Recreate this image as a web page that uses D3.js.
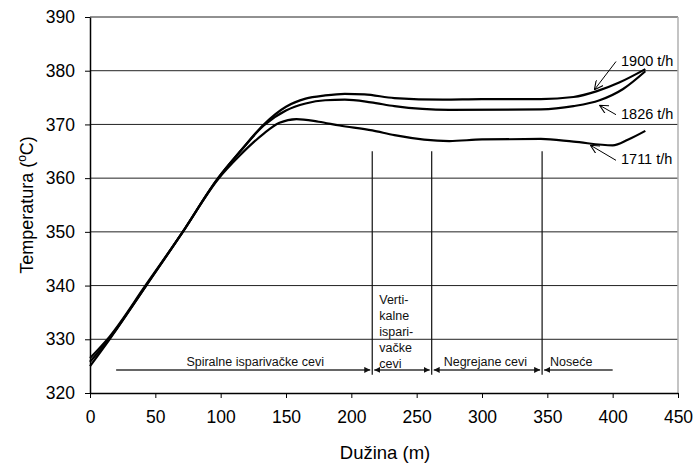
<!DOCTYPE html>
<html>
<head>
<meta charset="utf-8">
<script src="https://cdn.jsdelivr.net/npm/d3@7"></script>
<style>
  body { margin: 0; background: #fff; }
  text { font-family: "Liberation Sans", Arial, sans-serif; }
</style>
</head>
<body>
<svg id="chart" width="696" height="464"></svg>
<script>
// data: [length (m), temperature (°C)]
const flow1900 = [[0,325],[15,330],[43,340],[71,350],[98,360],[115,365],[133,370],[150,373.3],[165,374.8],[180,375.4],[195,375.7],[210,375.6],[233,374.9],[270,374.6],[300,374.7],[345,374.7],[370,375.1],[388,376.2],[405,377.8],[425,380.3]];
const flow1826 = [[0,325.8],[15,330.2],[43,340],[71,350],[98,360],[115,365],[133,369.8],[150,372.6],[165,373.9],[180,374.5],[195,374.6],[215,374.1],[233,373.4],[275,372.7],[345,372.8],[370,373.4],[390,374.5],[408,376.6],[425,379.9]];
const flow1711 = [[0,326.5],[15,330.5],[43,340.2],[71,350],[98,359.8],[115,364.3],[133,368.3],[145,370.3],[158,371.0],[175,370.5],[191,369.8],[216,368.9],[233,368.0],[275,366.9],[300,367.2],[345,367.3],[370,366.8],[400,366.1],[412,367.2],[425,368.8]];

const seriesNames = ["1900 t/h", "1826 t/h", "1711 t/h"];
// where each label's pointer hits the curve (x in m) and where the label sits (°C)
const pointerAt = [386, 390, 383];
const labelAt = [381.9, 372.0, 363.5];

const xTicks = [0, 50, 100, 150, 200, 250, 300, 350, 400, 450];
const yTicks = [320, 330, 340, 350, 360, 370, 380, 390];

// section boundaries along the tube (m)
const boundaries = [216, 261.5, 346];
const sectionStart = 20, sectionEnd = 400;
const sectionY = 324.3;
const boundaryTop = 365, boundaryBottom = 323.4;
const sectionNames = [
  ["Spiralne isparivačke cevi"],
  ["Verti-", "kalne", "ispari-", "vačke", "cevi"],
  ["Negrejane cevi"],
  ["Noseće"]
];

const margin = { top: 17, right: 18, bottom: 71, left: 90 },
    width = 696 - margin.left - margin.right,
    height = 464 - margin.top - margin.bottom;

const svg = d3.select("#chart")
    .append("g")
    .attr("transform", `translate(${margin.left},${margin.top})`);

const x = d3.scaleLinear().domain([0, 450]).range([0, width]);
const y = d3.scaleLinear().domain([320, 390]).range([height, 0]);

// arrowhead markers
const defs = d3.select("#chart").append("defs");
defs.append("marker")
    .attr("id", "tri")
    .attr("viewBox", "0 0 10 10")
    .attr("refX", 10).attr("refY", 5)
    .attr("markerWidth", 6).attr("markerHeight", 6)
    .attr("markerUnits", "userSpaceOnUse")
    .attr("orient", "auto-start-reverse")
    .append("path").attr("d", "M0,0 L10,5 L0,10 Z").attr("fill", "#111");
defs.append("marker")
    .attr("id", "open")
    .attr("viewBox", "0 0 10 10")
    .attr("refX", 10).attr("refY", 5)
    .attr("markerWidth", 9).attr("markerHeight", 9)
    .attr("markerUnits", "userSpaceOnUse")
    .attr("orient", "auto")
    .append("path").attr("d", "M0,0 L10,5 L0,10").attr("fill", "none").attr("stroke", "#000").attr("stroke-width", 1.2);

// horizontal grid
svg.append("g")
    .selectAll("line")
    .data(yTicks.slice(1))
    .join("line")
    .attr("x1", 0).attr("x2", width)
    .attr("y1", d => y(d)).attr("y2", d => y(d))
    .attr("stroke", "#222").attr("stroke-width", 1);

// right frame
svg.append("line")
    .attr("x1", width).attr("x2", width)
    .attr("y1", 0).attr("y2", height)
    .attr("stroke", "#b0b0b0").attr("stroke-width", 1.5);

const xAxis = svg.append("g")
    .attr("transform", `translate(0,${height})`)
    .call(d3.axisBottom(x).tickValues(xTicks).tickSize(5).tickPadding(13).tickSizeOuter(0));
const yAxis = svg.append("g")
    .call(d3.axisLeft(y).tickValues(yTicks).tickSize(5).tickPadding(10).tickSizeOuter(0));

[xAxis, yAxis].forEach(a => {
    a.select(".domain").attr("stroke", "#000").attr("stroke-width", 1.5);
    a.selectAll(".tick line").attr("stroke", "#000");
    a.selectAll("text").attr("font-size", 17.5).attr("fill", "#000")
        .style("font-family", "'Liberation Sans', Arial, sans-serif");
});

// axis titles
svg.append("text")
    .attr("x", width / 2 + 1).attr("y", height + 66)
    .attr("text-anchor", "middle").attr("font-size", 18.5)
    .text("Dužina (m)");

const yTitle = svg.append("text")
    .attr("transform", `translate(${-57},${height / 2}) rotate(-90)`)
    .attr("text-anchor", "middle").attr("font-size", 18);
yTitle.append("tspan").text("Temperatura (");
yTitle.append("tspan").attr("font-size", 12).attr("dy", -7).text("o");
yTitle.append("tspan").attr("dy", 7).text("C)");

// section boundaries
svg.append("g")
    .selectAll("line")
    .data(boundaries)
    .join("line")
    .attr("x1", d => x(d)).attr("x2", d => x(d))
    .attr("y1", y(boundaryTop)).attr("y2", y(boundaryBottom))
    .attr("stroke", "#111").attr("stroke-width", 1.2);

// dimension arrows for each section
const edges = [sectionStart, ...boundaries, sectionEnd];
const gap = 2;
edges.slice(0, -1).forEach((a, i) => {
    const b = edges[i + 1];
    svg.append("line")
        .attr("x1", x(a) + (i > 0 ? gap : 0))
        .attr("x2", x(b) - (i < edges.length - 2 ? gap : 0))
        .attr("y1", y(sectionY)).attr("y2", y(sectionY))
        .attr("stroke", "#333").attr("stroke-width", 1.5)
        .attr("marker-start", i > 0 ? "url(#tri)" : null)
        .attr("marker-end", i < edges.length - 2 ? "url(#tri)" : null);
});

// section labels
const lineH = 16;
sectionNames.forEach((lines, i) => {
    const a = edges[i], b = edges[i + 1];
    const t = svg.append("text").attr("font-size", 12.5).attr("fill", "#111");
    if (lines.length === 1) {
        const tx = i === 0 ? (x(a) + x(b)) / 2 + 11 : x(a) + (i === 3 ? 8 : 12);
        t.attr("x", tx).attr("y", y(sectionY) - 4)
            .attr("text-anchor", i === 0 ? "middle" : "start")
            .text(lines[0]);
    } else {
        lines.forEach((s, k) => {
            t.append("tspan")
                .attr("x", x(a) + 7)
                .attr("y", y(sectionY) - 2 - (lines.length - 1 - k) * lineH)
                .text(s);
        });
    }
});

// curves
const line = d3.line()
    .x(d => x(d[0]))
    .y(d => y(d[1]))
    .curve(d3.curveMonotoneX);

const allSeries = [flow1900, flow1826, flow1711];
svg.append("g")
    .selectAll("path")
    .data(allSeries)
    .join("path")
    .attr("d", line)
    .attr("fill", "none")
    .attr("stroke", "#000")
    .attr("stroke-width", 2.2);

// curve labels with pointers
const interp = (s, xv) => {
    for (let i = 1; i < s.length; i++) {
        if (s[i][0] >= xv) {
            const t = (xv - s[i - 1][0]) / (s[i][0] - s[i - 1][0]);
            return s[i - 1][1] + t * (s[i][1] - s[i - 1][1]);
        }
    }
    return s[s.length - 1][1];
};
const labelX = 621;
const pointerOffset = [-2, 5, 2];
seriesNames.forEach((name, i) => {
    const px = x(pointerAt[i]), py = y(interp(allSeries[i], pointerAt[i])) + pointerOffset[i];
    const ly = y(labelAt[i]);
    svg.append("line")
        .attr("x1", labelX - margin.left - 5).attr("y1", ly + 1)
        .attr("x2", px).attr("y2", py)
        .attr("stroke", "#000").attr("stroke-width", 1)
        .attr("marker-end", "url(#open)");
    svg.append("text")
        .attr("x", labelX - margin.left).attr("y", ly)
        .attr("dy", "0.35em")
        .attr("font-size", 14.5)
        .text(name);
});
</script>
</body>
</html>
